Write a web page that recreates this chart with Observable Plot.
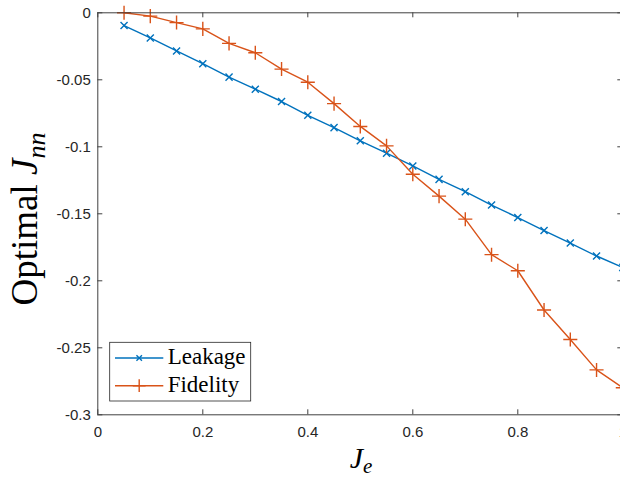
<!DOCTYPE html>
<html><head><meta charset="utf-8">
<script src="https://cdn.jsdelivr.net/npm/d3@7"></script>
<script src="https://cdn.jsdelivr.net/npm/@observablehq/plot@0.6"></script>
<style>
html,body{margin:0;padding:0;background:#fff;overflow:hidden;}
#chart svg{display:block;}
</style>
</head><body><div id="chart"></div>
<script>
const je = [0.05, 0.10, 0.15, 0.20, 0.25, 0.30, 0.35, 0.40, 0.45, 0.50,
            0.55, 0.60, 0.65, 0.70, 0.75, 0.80, 0.85, 0.90, 0.95, 1.00];
const leakage = [-0.0095, -0.0188, -0.0285, -0.0380, -0.0480, -0.0570, -0.0662, -0.0765, -0.0857, -0.0955,
                 -0.1048, -0.1143, -0.1243, -0.1335, -0.1435, -0.1528, -0.1625, -0.1718, -0.1815, -0.1900];
const fidelity = [0.0000, -0.0025, -0.0073, -0.0120, -0.0228, -0.0298, -0.0420, -0.0518, -0.0678, -0.0848,
                  -0.0993, -0.1205, -0.1368, -0.1540, -0.1805, -0.1925, -0.2218, -0.2438, -0.2665, -0.2798];
const seriesNames = ["Leakage", "Fidelity"];
const seriesColors = ["#0072BD", "#D95319"];
const xTicks = [0, 0.2, 0.4, 0.6, 0.8, 1];
const yTicks = [0, -0.05, -0.1, -0.15, -0.2, -0.25, -0.3];

const rows = je.flatMap((x, i) => [
  {x, y: leakage[i], s: seriesNames[0]},
  {x, y: fidelity[i], s: seriesNames[1]}
]);

const W = 620, H = 477;
const mL = 97.3, mR = -2.3, mT = 12.3, mB = 62.7;
const fw = W - mL - mR, fh = H - mT - mB;
const axisCol = "#404040";
const tickLen = 5;

const chart = Plot.plot({
  width: W, height: H,
  marginLeft: mL, marginRight: mR, marginTop: mT, marginBottom: mB,
  style: {fontFamily: "'Liberation Sans', Arial, sans-serif", fontSize: "15px", background: "#fff", overflow: "visible"},
  x: {domain: [0, 1]},
  y: {domain: [-0.3, 0]},
  color: {domain: seriesNames, range: seriesColors},
  marks: [
    Plot.line(rows, {x: "x", y: "y", stroke: "s", z: "s", strokeWidth: 1.4}),
    Plot.dot(rows.filter(d => d.s === seriesNames[0]), {x: "x", y: "y", stroke: "s", symbol: "times", r: 3.3, strokeWidth: 1.4}),
    Plot.dot(rows.filter(d => d.s === seriesNames[1]), {x: "x", y: "y", stroke: "s", symbol: "plus", r: 4.6, strokeWidth: 1.4}),
    Plot.frame({stroke: axisCol, strokeWidth: 1}),
    Plot.tickX(xTicks, {x: d => d, insetTop: fh - tickLen, stroke: axisCol}),
    Plot.tickX(xTicks, {x: d => d, insetBottom: fh - tickLen, stroke: axisCol}),
    Plot.tickY(yTicks, {y: d => d, insetRight: fw - tickLen, stroke: axisCol}),
    Plot.tickY(yTicks, {y: d => d, insetLeft: fw - tickLen, stroke: axisCol}),
    Plot.axisX({ticks: xTicks, tickSize: 0, tickPadding: 11.7, tickFormat: d => String(d), label: null, fill: "#262626", fontSize: 15}),
    Plot.axisY({ticks: yTicks, tickSize: 0, tickPadding: 7, tickFormat: d => String(+d.toFixed(2)), label: null, fill: "#262626", fontSize: 15})
  ]
});

document.getElementById("chart").appendChild(chart);

const svg = d3.select(chart);
const serif = "'Liberation Serif', 'Times New Roman', serif";

// y label
const yl = svg.append("text")
  .attr("transform", "translate(36.5,219) rotate(-90)")
  .attr("text-anchor", "middle")
  .attr("font-family", serif).attr("font-size", 37).attr("fill", "#000");
yl.append("tspan").text("Optimal ");
yl.append("tspan").attr("font-style", "italic").text("J");
yl.append("tspan").attr("font-style", "italic").attr("font-size", 26).attr("dy", 8).text("nn");

// x label
const xl = svg.append("text")
  .attr("x", 361).attr("y", 468)
  .attr("text-anchor", "middle")
  .attr("font-family", serif).attr("font-size", 30).attr("fill", "#000");
xl.append("tspan").attr("font-style", "italic").text("J");
xl.append("tspan").attr("font-style", "italic").attr("font-size", 21).attr("dy", 5).text("e");

// legend
const lg = svg.append("g").attr("text-anchor", "start");
lg.append("rect").attr("x", 109.7).attr("y", 342.3).attr("width", 141).attr("height", 58.7)
  .attr("fill", "#fff").attr("stroke", "#262626").attr("stroke-width", 0.8);
const legendSymbols = [d3.symbolTimes, d3.symbolPlus];
const legendSizes = [Math.PI * 2.6 * 2.6, Math.PI * 4.2 * 4.2];
const rowY = [358, 385.7];
const baseY = [364, 391.7];
seriesNames.forEach((name, i) => {
  lg.append("line").attr("x1", 115).attr("x2", 163.3).attr("y1", rowY[i]).attr("y2", rowY[i])
    .attr("stroke", seriesColors[i]).attr("stroke-width", 1.4);
  lg.append("path").attr("d", d3.symbol(legendSymbols[i], legendSizes[i])())
    .attr("transform", `translate(139.2,${rowY[i]})`)
    .attr("fill", "none").attr("stroke", seriesColors[i]).attr("stroke-width", 1.4);
  lg.append("text").attr("x", 167.7).attr("y", baseY[i]).attr("text-anchor", "start")
    .attr("font-family", serif).attr("font-size", 23).attr("fill", "#000").text(name);
});
</script>
</body></html>
